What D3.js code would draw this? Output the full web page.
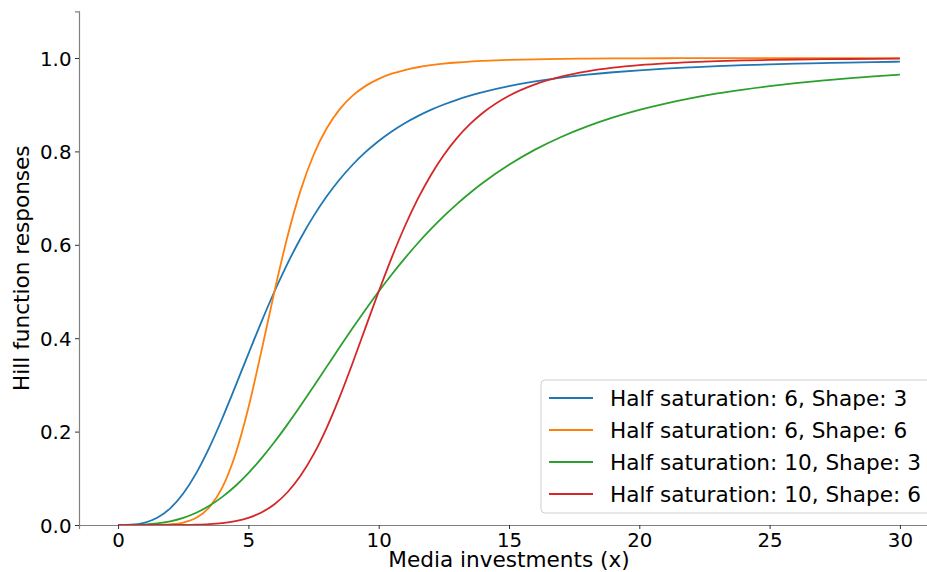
<!DOCTYPE html>
<html>
<head>
<meta charset="utf-8">
<script src="https://cdn.jsdelivr.net/npm/d3@7"></script>
<style>
  html, body { margin: 0; padding: 0; background: #fff; overflow: hidden; }
  svg { display: block; font-family: "DejaVu Sans", sans-serif; }
</style>
</head>
<body>
<svg id="chart" width="927" height="572"></svg>
<script>
// Media investment levels (x) at which each response curve is sampled
const xs = [0, 0.5, 1, 1.5, 2, 2.5, 3, 3.5, 4, 4.5, 5, 5.5, 6, 6.5, 7, 7.5, 8, 8.5, 9, 9.5,
            10, 10.5, 11, 11.5, 12, 12.5, 13, 13.5, 14,
            15, 16, 17, 18, 19, 20, 21, 22, 23, 24, 25, 26, 27, 28, 29, 30];

// Hill function responses per parameter setting
const halfSat6Shape3 = [0, 0.0006, 0.0046, 0.0154, 0.0357, 0.0675, 0.1111, 0.1656, 0.2286, 0.2967,
  0.3666, 0.4351, 0.5, 0.5597, 0.6136, 0.6614, 0.7033, 0.7398, 0.7714, 0.7988,
  0.8224, 0.8428, 0.8604, 0.8756, 0.8889, 0.9004, 0.9105, 0.9193, 0.9270,
  0.9398, 0.9499, 0.9579, 0.9643, 0.9695, 0.9737, 0.9772, 0.9801, 0.9826, 0.9846, 0.9864,
  0.9879, 0.9891, 0.9903, 0.9912, 0.9921];

const halfSat6Shape6 = [0, 0, 0.00002, 0.0002, 0.0014, 0.0052, 0.0154, 0.0379, 0.0807, 0.1511,
  0.2509, 0.3724, 0.5, 0.6178, 0.7160, 0.7923, 0.8489, 0.8899, 0.9193, 0.9403,
  0.9554, 0.9664, 0.9743, 0.9802, 0.9846, 0.9879, 0.9904, 0.9924, 0.9938,
  0.9959, 0.9972, 0.9981, 0.9986, 0.9990, 0.9993, 0.9995, 0.9996, 0.9997, 0.9998, 0.9998,
  0.9998, 0.9999, 0.9999, 0.9999, 0.9999];

const halfSat10Shape3 = [0, 0.0001, 0.0010, 0.0034, 0.0079, 0.0154, 0.0263, 0.0411, 0.0602, 0.0835,
  0.1111, 0.1426, 0.1776, 0.2155, 0.2554, 0.2967, 0.3386, 0.3805, 0.4216, 0.4616,
  0.5, 0.5365, 0.5710, 0.6033, 0.6334, 0.6614, 0.6872, 0.7110, 0.7329,
  0.7714, 0.8038, 0.8309, 0.8536, 0.8728, 0.8889, 0.9025, 0.9141, 0.9241, 0.9325, 0.9398,
  0.9462, 0.9517, 0.9564, 0.9606, 0.9643];

const halfSat10Shape6 = [0, 0, 0, 0, 0.0001, 0.0002, 0.0007, 0.0018, 0.0041, 0.0082,
  0.0154, 0.0269, 0.0446, 0.0701, 0.1053, 0.1511, 0.2077, 0.2739, 0.3470, 0.4237,
  0.5, 0.5727, 0.6392, 0.6982, 0.7491, 0.7923, 0.8284, 0.8582, 0.8828,
  0.9193, 0.9437, 0.9602, 0.9714, 0.9792, 0.9846, 0.9885, 0.9913, 0.9933, 0.9948, 0.9959,
  0.9968, 0.9974, 0.9979, 0.9983, 0.9986];

const seriesLabels = [
  "Half saturation: 6, Shape: 3",
  "Half saturation: 6, Shape: 6",
  "Half saturation: 10, Shape: 3",
  "Half saturation: 10, Shape: 6"
];
const seriesValues = [halfSat6Shape3, halfSat6Shape6, halfSat10Shape3, halfSat10Shape6];
const seriesColors = ["#1f77b4", "#ff7f0e", "#2ca02c", "#d62728"];

const xTicks = [0, 5, 10, 15, 20, 25, 30];
const yTicks = [0.0, 0.2, 0.4, 0.6, 0.8, 1.0];

const svg = d3.select("#chart");

// Plot area: left spine at 79, baseline at 525; the right side runs past the view
const x = d3.scaleLinear().domain([-1.5, 31.5]).range([79, 939]);
const y = d3.scaleLinear().domain([0, 1.1]).range([525, 11.3]);

const tickFont = 19.8;
const labelFont = 21.6;

// Curves
const line = d3.line()
  .x(d => x(d[0]))
  .y(d => y(d[1]))
  .curve(d3.curveMonotoneX);

seriesValues.forEach((vals, i) => {
  svg.append("path")
    .datum(xs.map((xv, j) => [xv, vals[j]]))
    .attr("fill", "none")
    .attr("stroke", seriesColors[i])
    .attr("stroke-width", 1.8)
    .attr("d", line);
});

// Axes
const xAxis = svg.append("g")
  .attr("transform", `translate(0,${y(0)})`)
  .call(d3.axisBottom(x).tickValues(xTicks).tickFormat(d3.format("d")).tickSize(4).tickPadding(3.5));

const yAxis = svg.append("g")
  .attr("transform", `translate(${x(-1.5)},0)`)
  .call(d3.axisLeft(y).tickValues(yTicks).tickFormat(d3.format(".1f")).tickSize(4).tickPadding(3.5));

[xAxis, yAxis].forEach(g => {
  g.select(".domain").attr("stroke", "#808080").attr("stroke-width", 1.2);
  g.selectAll(".tick line").attr("stroke", "#333").attr("stroke-width", 1);
  g.selectAll(".tick text")
    .attr("fill", "#000")
    .style("font-size", tickFont + "px")
    .style("font-family", "DejaVu Sans, sans-serif");
});
yAxis.selectAll(".tick text").attr("dy", "0.36em");

// Axis titles
svg.append("text")
  .attr("x", 509)
  .attr("y", 567)
  .attr("text-anchor", "middle")
  .style("font-size", labelFont + "px")
  .text("Media investments (x)");

svg.append("text")
  .attr("transform", `translate(29,${y(0.55)}) rotate(-90)`)
  .attr("text-anchor", "middle")
  .style("font-size", labelFont + "px")
  .text("Hill function responses");

// Legend
const legend = svg.append("g").attr("transform", "translate(541,380)");
legend.append("rect")
  .attr("x", 0).attr("y", 0)
  .attr("width", 400).attr("height", 133)
  .attr("rx", 4).attr("ry", 4)
  .attr("fill", "#fff").attr("fill-opacity", 0.8)
  .attr("stroke", "#d0d0d0").attr("stroke-width", 1);

seriesLabels.forEach((label, i) => {
  const cy = 18 + i * 32;
  legend.append("line")
    .attr("x1", 8).attr("x2", 52)
    .attr("y1", cy).attr("y2", cy)
    .attr("stroke", seriesColors[i])
    .attr("stroke-width", 1.8);
  legend.append("text")
    .attr("x", 69).attr("y", cy)
    .attr("dy", "0.36em")
    .style("font-size", labelFont + "px")
    .text(label);
});
</script>
</body>
</html>
